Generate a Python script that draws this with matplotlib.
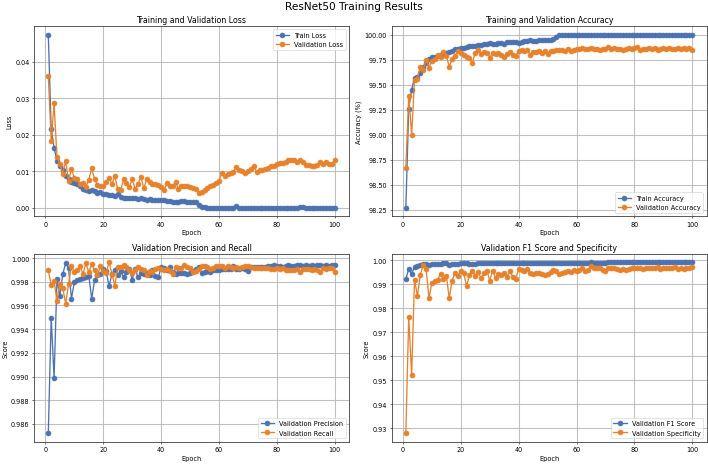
import matplotlib
matplotlib.use("Agg")
import matplotlib.pyplot as plt

epochs = list(range(1, 101))

train_loss = [0.0474, 0.0216, 0.0165, 0.0128, 0.0115, 0.0103, 0.0087, 0.0080, 0.0071, 0.0068,
              0.0066, 0.0059, 0.0052, 0.0050, 0.0046, 0.0050, 0.0045, 0.0041, 0.0043, 0.0039,
              0.0037, 0.0035, 0.0034, 0.0033, 0.0037, 0.0031, 0.0028, 0.0027, 0.0028, 0.0026,
              0.0026, 0.0025, 0.0026, 0.0024, 0.0022, 0.0025, 0.0022, 0.0021, 0.0021, 0.0022,
              0.0023, 0.0020, 0.0018, 0.0017, 0.0016, 0.0017, 0.0019, 0.0018, 0.0017, 0.0016,
              0.0015, 0.0016, 0.0008, 0.0003, 0.0002, 0.0001, 0.0001, 0.0001, 0.0001, 0.0001,
              0.0001, 0.0001, 0.0001, 0.0001, 0.0001, 0.0004, 0.0001, 0.0001, 0.0001, 0.0001,
              0.0001, 0.0001, 0.0001, 0.0001, 0.0001, 0.0001, 0.0001, 0.0001, 0.0001, 0.0001,
              0.0001, 0.0001, 0.0001, 0.0001, 0.0001, 0.0001, 0.0001, 0.0003, 0.0002, 0.0001,
              0.0001, 0.0001, 0.0001, 0.0001, 0.0001, 0.0001, 0.0001, 0.0001, 0.0001, 0.0001]

val_loss = [0.0360, 0.0183, 0.0286, 0.0138, 0.0121, 0.0094, 0.0129, 0.0075, 0.0106, 0.0083,
            0.0078, 0.0066, 0.0067, 0.0057, 0.0077, 0.0108, 0.0078, 0.0063, 0.0059, 0.0061,
            0.0071, 0.0083, 0.0065, 0.0088, 0.0051, 0.0048, 0.0078, 0.0067, 0.0057, 0.0078,
            0.0053, 0.0065, 0.0085, 0.0054, 0.0078, 0.0071, 0.0066, 0.0065, 0.0062, 0.0057,
            0.0050, 0.0067, 0.0059, 0.0060, 0.0070, 0.0052, 0.0061, 0.0060, 0.0059, 0.0057,
            0.0055, 0.0051, 0.0040, 0.0044, 0.0050, 0.0055, 0.0061, 0.0063, 0.0069, 0.0075,
            0.0095, 0.0087, 0.0094, 0.0095, 0.0099, 0.0112, 0.0103, 0.0101, 0.0096, 0.0100,
            0.0107, 0.0114, 0.0099, 0.0105, 0.0105, 0.0107, 0.0109, 0.0115, 0.0115, 0.0119,
            0.0122, 0.0123, 0.0127, 0.0130, 0.0132, 0.0130, 0.0126, 0.0132, 0.0127, 0.0117,
            0.0117, 0.0115, 0.0115, 0.0117, 0.0126, 0.0121, 0.0126, 0.0121, 0.0119, 0.0132]

train_acc = [98.27, 99.26, 99.45, 99.57, 99.58, 99.62, 99.68, 99.72, 99.76, 99.78,
             99.78, 99.79, 99.80, 99.81, 99.82, 99.83, 99.84, 99.86, 99.86, 99.87,
             99.87, 99.88, 99.89, 99.89, 99.89, 99.90, 99.90, 99.91, 99.91, 99.92,
             99.91, 99.91, 99.92, 99.92, 99.91, 99.93, 99.93, 99.93, 99.93, 99.92,
             99.93, 99.94, 99.94, 99.95, 99.94, 99.94, 99.95, 99.95, 99.95, 99.95,
             99.95, 99.96, 99.98, 100.0, 100.0, 100.0, 100.0, 100.0, 100.0, 100.0,
             100.0, 100.0, 100.0, 100.0, 100.0, 100.0, 100.0, 100.0, 100.0, 100.0,
             100.0, 100.0, 100.0, 100.0, 100.0, 100.0, 100.0, 100.0, 100.0, 100.0,
             100.0, 100.0, 100.0, 100.0, 100.0, 100.0, 100.0, 100.0, 100.0, 100.0,
             100.0, 100.0, 100.0, 100.0, 100.0, 100.0, 100.0, 100.0, 100.0, 100.0]

val_acc = [98.67, 99.39, 99.00, 99.55, 99.56, 99.68, 99.65, 99.75, 99.67, 99.74,
           99.76, 99.80, 99.78, 99.83, 99.79, 99.68, 99.76, 99.79, 99.84, 99.82,
           99.80, 99.78, 99.77, 99.72, 99.82, 99.85, 99.81, 99.83, 99.82, 99.77,
           99.82, 99.81, 99.82, 99.80, 99.78, 99.81, 99.83, 99.80, 99.79, 99.84,
           99.85, 99.84, 99.85, 99.80, 99.83, 99.83, 99.84, 99.82, 99.84, 99.81,
           99.84, 99.84, 99.85, 99.85, 99.85, 99.84, 99.86, 99.84, 99.85, 99.86,
           99.86, 99.87, 99.86, 99.86, 99.87, 99.86, 99.86, 99.85, 99.86, 99.86,
           99.88, 99.86, 99.87, 99.86, 99.86, 99.85, 99.86, 99.87, 99.86, 99.87,
           99.88, 99.85, 99.86, 99.86, 99.87, 99.86, 99.87, 99.85, 99.86, 99.87,
           99.86, 99.87, 99.86, 99.86, 99.87, 99.86, 99.87, 99.86, 99.87, 99.85]

val_precision = [0.98522, 0.99496, 0.98986, 0.99824, 0.99678, 0.99866, 0.99958, 0.99916, 0.99658, 0.99796,
                 0.99815, 0.99824, 0.99829, 0.99838, 0.99852, 0.99658, 0.99815, 0.99857, 0.99863, 0.99905,
                 0.99891, 0.99762, 0.99868, 0.99896, 0.99860, 0.99894, 0.99838, 0.99880, 0.99908, 0.99818,
                 0.99908, 0.99838, 0.99871, 0.99863, 0.99877, 0.99860, 0.99902, 0.99852, 0.99838, 0.99922,
                 0.99916, 0.99902, 0.99924, 0.99882, 0.99868, 0.99874, 0.99871, 0.99871, 0.99863, 0.99874,
                 0.99894, 0.99910, 0.99922, 0.99874, 0.99882, 0.99894, 0.99885, 0.99902, 0.99896, 0.99899,
                 0.99905, 0.99910, 0.99908, 0.99912, 0.99935, 0.99910, 0.99912, 0.99915, 0.99905, 0.99895,
                 0.99925, 0.99928, 0.99925, 0.99922, 0.99925, 0.99928, 0.99930, 0.99935, 0.99938, 0.99935,
                 0.99935, 0.99928, 0.99935, 0.99938, 0.99935, 0.99935, 0.99938, 0.99942, 0.99935, 0.99938,
                 0.99935, 0.99938, 0.99935, 0.99938, 0.99942, 0.99935, 0.99938, 0.99935, 0.99938, 0.99941]

val_recall = [0.99896, 0.99770, 0.99810, 0.99641, 0.99784, 0.99748, 0.99616, 0.99781, 0.99935, 0.99882,
              0.99896, 0.99930, 0.99866, 0.99958, 0.99880, 0.99950, 0.99896, 0.99854, 0.99935, 0.99894,
              0.99877, 0.99964, 0.99866, 0.99767, 0.99924, 0.99927, 0.99941, 0.99924, 0.99902, 0.99874,
              0.99902, 0.99927, 0.99910, 0.99896, 0.99860, 0.99894, 0.99880, 0.99910, 0.99916, 0.99908,
              0.99902, 0.99910, 0.99888, 0.99868, 0.99922, 0.99916, 0.99916, 0.99938, 0.99922, 0.99916,
              0.99882, 0.99894, 0.99910, 0.99933, 0.99933, 0.99927, 0.99910, 0.99916, 0.99930, 0.99933,
              0.99930, 0.99918, 0.99930, 0.99925, 0.99920, 0.99922, 0.99915, 0.99925, 0.99930, 0.99935,
              0.99922, 0.99915, 0.99918, 0.99915, 0.99920, 0.99915, 0.99918, 0.99912, 0.99905, 0.99915,
              0.99905, 0.99915, 0.99900, 0.99898, 0.99902, 0.99900, 0.99905, 0.99885, 0.99910, 0.99905,
              0.99912, 0.99900, 0.99910, 0.99902, 0.99885, 0.99915, 0.99910, 0.99915, 0.99918, 0.99885]

val_f1 = [0.9923, 0.9964, 0.9944, 0.9974, 0.9976, 0.9982, 0.9984, 0.9986, 0.9981, 0.9985,
          0.9986, 0.9987, 0.9987, 0.9988, 0.9988, 0.9982, 0.9986, 0.9987, 0.9987, 0.9989,
          0.9989, 0.9988, 0.9987, 0.9987, 0.9986, 0.9988, 0.9989, 0.9989, 0.9989, 0.9988,
          0.9989, 0.9988, 0.9988, 0.9989, 0.9988, 0.9988, 0.9989, 0.9989, 0.9988, 0.9990,
          0.9990, 0.9990, 0.9990, 0.9989, 0.9989, 0.9989, 0.9989, 0.9990, 0.9989, 0.9989,
          0.9989, 0.9990, 0.9990, 0.9990, 0.9990, 0.9990, 0.9990, 0.9990, 0.9990, 0.9991,
          0.9991, 0.9991, 0.9991, 0.9991, 0.9992, 0.9991, 0.9991, 0.9991, 0.9991, 0.9991,
          0.9992, 0.9992, 0.9992, 0.9992, 0.9992, 0.9992, 0.9992, 0.9992, 0.9992, 0.9992,
          0.9992, 0.9992, 0.9992, 0.9992, 0.9992, 0.9992, 0.9992, 0.9992, 0.9992, 0.9992,
          0.9992, 0.9992, 0.9992, 0.9992, 0.9992, 0.9992, 0.9992, 0.9992, 0.9992, 0.9992]

val_specificity = [0.9280, 0.97644, 0.95221, 0.99206, 0.98519, 0.99394, 0.99825, 0.99637, 0.98425, 0.99071,
                   0.99165, 0.99192, 0.99435, 0.99246, 0.99367, 0.98425, 0.99165, 0.99475, 0.99367, 0.99569,
                   0.99475, 0.98923, 0.99408, 0.99542, 0.99367, 0.99502, 0.99273, 0.99461, 0.99569, 0.99165,
                   0.99569, 0.99260, 0.99435, 0.99394, 0.99461, 0.99327, 0.99569, 0.99300, 0.99233, 0.99637,
                   0.99610, 0.99569, 0.99663, 0.99461, 0.99435, 0.99461, 0.99461, 0.99435, 0.99394, 0.99435,
                   0.99502, 0.99623, 0.99542, 0.99435, 0.99475, 0.99502, 0.99569, 0.99529, 0.99596, 0.99569,
                   0.99596, 0.99677, 0.99569, 0.99596, 0.99758, 0.99677, 0.99677, 0.99677, 0.99596, 0.99569,
                   0.99677, 0.99704, 0.99677, 0.99650, 0.99623, 0.99650, 0.99623, 0.99650, 0.99677, 0.99690,
                   0.99677, 0.99704, 0.99650, 0.99677, 0.99704, 0.99690, 0.99704, 0.99717, 0.99650, 0.99677,
                   0.99690, 0.99704, 0.99690, 0.99717, 0.99650, 0.99677, 0.99650, 0.99677, 0.99690, 0.99717]

BLUE = "#4C72B0"
ORANGE = "#E6822B"

fig = plt.figure(figsize=(15, 9.85), dpi=47.2)
fig.suptitle("ResNet50 Training Results", fontsize=16, y=0.995)

positions = [
    [0.048, 0.533, 0.445, 0.409],
    [0.553, 0.533, 0.445, 0.409],
    [0.048, 0.048, 0.445, 0.404],
    [0.553, 0.048, 0.445, 0.404],
]
panels = [
    ("Training and Validation Loss", "Loss", train_loss, "Train Loss", val_loss, "Validation Loss", "upper right"),
    ("Training and Validation Accuracy", "Accuracy (%)", train_acc, "Train Accuracy", val_acc, "Validation Accuracy", "lower right"),
    ("Validation Precision and Recall", "Score", val_precision, "Validation Precision", val_recall, "Validation Recall", "lower right"),
    ("Validation F1 Score and Specificity", "Score", val_f1, "Validation F1 Score", val_specificity, "Validation Specificity", "lower right"),
]

for pos, (title, ylabel, s1, l1, s2, l2, loc) in zip(positions, panels):
    ax = fig.add_axes(pos)
    ax.plot(epochs, s1, marker="o", color=BLUE, label=l1, markersize=7.5, linewidth=2)
    ax.plot(epochs, s2, marker="o", color=ORANGE, label=l2, markersize=7.5, linewidth=2)
    ax.set_title(title, fontsize=12)
    ax.set_xlabel("Epoch", fontsize=10)
    ax.set_ylabel(ylabel, fontsize=10)
    ax.set_xticks([0, 20, 40, 60, 80, 100])
    ax.grid(True, color="#b0b0b0", linewidth=1.6, alpha=0.8)
    ax.legend(loc=loc, fontsize=10)
    for sp in ax.spines.values():
        sp.set_color("#333333")
        sp.set_linewidth(1.2)

fig.savefig("out.png", dpi=47.2)
